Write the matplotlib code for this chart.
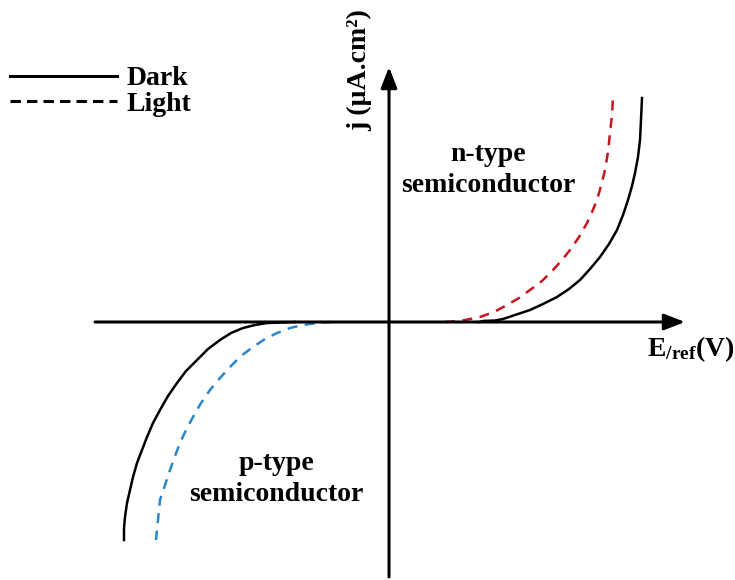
import matplotlib.pyplot as plt
from matplotlib.lines import Line2D

plt.rcParams['font.family'] = ['Liberation Serif', 'DejaVu Serif']
plt.rcParams['font.weight'] = 'bold'
plt.rcParams['mathtext.fontset'] = 'custom'
plt.rcParams['mathtext.rm'] = 'Liberation Serif:bold'
plt.rcParams['mathtext.bf'] = 'Liberation Serif:bold'
plt.rcParams['mathtext.it'] = 'Liberation Serif:bold'

# schematic J-E curves (arbitrary units)
dark_n_E = [0.90, 0.94, 1.06, 1.14, 1.26, 1.41, 1.54, 1.68, 1.80, 1.91, 2.01, 2.11,
            2.20, 2.28, 2.34, 2.39, 2.43, 2.46, 2.49, 2.51, 2.52, 2.53]
dark_n_j = [0.00, 0.01, 0.015, 0.03, 0.07, 0.12, 0.18, 0.25, 0.33, 0.42, 0.53, 0.65,
            0.78, 0.92, 1.07, 1.22, 1.36, 1.49, 1.65, 1.82, 2.02, 2.24]

light_n_E = [0.56, 0.71, 0.91, 1.05, 1.18, 1.30, 1.41, 1.53, 1.64, 1.73, 1.81, 1.90,
             1.98, 2.03, 2.08, 2.12, 2.16, 2.19, 2.21, 2.23, 2.24]
light_n_j = [0.00, 0.01, 0.05, 0.10, 0.17, 0.24, 0.32, 0.41, 0.52, 0.62, 0.72, 0.85,
             0.99, 1.10, 1.22, 1.36, 1.52, 1.70, 1.89, 2.07, 2.25]

dark_p_E = [-0.94, -1.09, -1.22, -1.34, -1.46, -1.58, -1.69, -1.81, -1.92, -2.03, -2.12, -2.21,
            -2.29, -2.36, -2.42, -2.47, -2.52, -2.56, -2.59, -2.62, -2.64, -2.65, -2.65]
dark_p_j = [0.00, -0.005, -0.01, -0.03, -0.06, -0.11, -0.18, -0.27, -0.38, -0.49, -0.61, -0.74,
            -0.88, -1.01, -1.15, -1.28, -1.41, -1.55, -1.68, -1.81, -1.95, -2.06, -2.18]

light_p_E = [-0.57, -0.72, -0.86, -0.99, -1.12, -1.24, -1.36, -1.48, -1.59, -1.69, -1.79,
             -1.88, -1.96, -2.03, -2.09, -2.14, -2.19, -2.24, -2.29, -2.31, -2.33]
light_p_j = [0.00, -0.01, -0.03, -0.06, -0.11, -0.17, -0.25, -0.34, -0.45, -0.56, -0.68,
             -0.81, -0.95, -1.08, -1.21, -1.34, -1.48, -1.63, -1.78, -1.98, -2.18]

legend_labels = ['Dark', 'Light']
red = '#c4161c'
blue = '#2a86c8'

fig = plt.figure(figsize=(7.35, 5.8), dpi=100)
ax = fig.add_axes([0, 0, 1, 1])
ax.set_xlim(-3.89, 3.46)
ax.set_ylim(-2.58, 3.22)
ax.axis('off')

# axes with arrows
arrow = dict(arrowstyle='-|>,head_length=0.9,head_width=0.35', lw=2.2, color='black',
             shrinkA=0, shrinkB=0, mutation_scale=14)
ax.annotate('', xy=(2.96, 0), xytext=(-2.94, 0), arrowprops=arrow)
ax.annotate('', xy=(0, 2.55), xytext=(0, -2.55), arrowprops=arrow)

dash = (4, 3)
ax.plot(dark_n_E, dark_n_j, color='black', lw=1.8, solid_joinstyle='round')
ax.plot(dark_p_E, dark_p_j, color='black', lw=1.8, solid_joinstyle='round')
ax.plot(light_n_E, light_n_j, color=red, lw=1.8, dashes=dash)
ax.plot(light_p_E, light_p_j, color=blue, lw=1.8, dashes=dash)

ax.text(0.99, 1.52, 'n-type\nsemiconductor', fontsize=20, ha='center', va='center',
        linespacing=1.3)
ax.text(-1.13, -1.57, 'p-type\nsemiconductor', fontsize=20, ha='center', va='center',
        linespacing=1.3)

ax.text(2.58, -0.27, r'E$_{/ref}$(V)', fontsize=20, ha='left', va='center')
ax.text(-0.29, 2.52, 'j (µA.cm²)', fontsize=20, rotation=90, ha='center', va='center')

handles = [Line2D([], [], color='black', lw=2.2),
           Line2D([], [], color='black', lw=2.2, dashes=(3.4, 2.0))]
ax.legend(handles, legend_labels, loc='upper left', bbox_to_anchor=(10 / 735, 1 - 66 / 580),
          bbox_transform=fig.transFigure, frameon=False, fontsize=20, handlelength=3.85,
          handletextpad=0.35, labelspacing=0.0, borderpad=0, borderaxespad=0)

fig.savefig('out.png', dpi=100)
